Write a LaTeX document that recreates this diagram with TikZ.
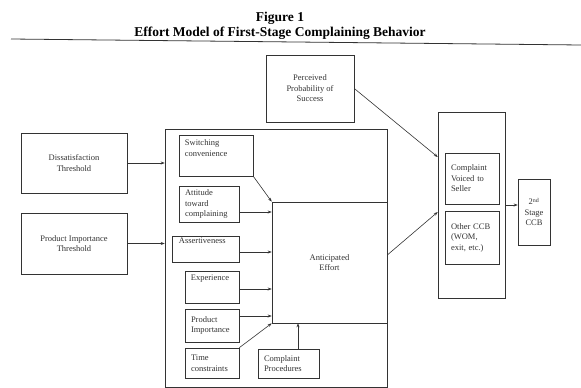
\documentclass[tikz,border=0pt]{standalone}
\usepackage{fontspec}
\setmainfont{Liberation Serif}
\usetikzlibrary{arrows.meta, positioning, calc}
\definecolor{ink}{HTML}{333333}

\begin{document}
\begin{tikzpicture}[x=1pt, y=-1pt,
    box/.style={draw=ink, line width=0.6pt, text=ink, inner sep=0pt,
      font=\fontsize{8.5}{10.5}\selectfont, align=center},
    lbox/.style={box, align=left, inner xsep=6pt},
    tl/.style={text=ink, font=\fontsize{8.5}{10.5}\selectfont, align=left,
      anchor=north west, inner sep=0pt},
    arr/.style={draw=ink, line width=0.6pt, -{Stealth[length=4pt, width=3pt]}}]
    \useasboundingbox (0,0) rectangle (581,388);

    % Title
    \node[font=\bfseries\fontsize{13.5}{15}\selectfont] (fig) at (280,18) {Figure 1};
    \node[font=\bfseries\fontsize{13.5}{15}\selectfont] (ttl) at (280,33) {Effort Model of First-Stage Complaining Behavior};
    \draw[ink, line width=0.8pt] (11,39) -- (581,45);

    % Perceived probability
    \node[box, minimum width=88pt, minimum height=67pt] (perc) at (310,88.5) {Perceived\\Probability of\\Success};

    % Thresholds
    \node[box, minimum width=106pt, minimum height=60pt] (dis) at (74,163) {Dissatisfaction\\Threshold};
    \node[box, minimum width=106pt, minimum height=61pt] (pit) at (74,243.5) {Product Importance\\Threshold};

    % Effort factors
    \node[box, minimum width=222pt, minimum height=258pt] (outer) at (276,258) {};
    \node[box, minimum width=74pt, minimum height=41pt] (sw) at (216,155.5) {};
    \node[tl] (swt) at ([shift={(6,5)}]sw.north west) {Switching\\convenience};
    \node[lbox, text width=48pt, minimum height=36pt] (att) at (209,204) {Attitude\\toward\\complaining};
    \node[box, minimum width=67pt, minimum height=26pt] (ass) at (205.5,249) {};
    \node[tl] (asst) at ([shift={(7,2)}]ass.north west) {Assertiveness};
    \node[box, minimum width=54pt, minimum height=32pt] (exp) at (212,287) {};
    \node[tl] (expt) at ([shift={(6,4)}]exp.north west) {Experience};
    \node[lbox, text width=42pt, minimum height=33pt] (pim) at (212,325.5) {Product\\Importance};
    \node[lbox, text width=42pt, minimum height=30pt] (tim) at (212,363) {Time\\constraints};
    \node[lbox, text width=49pt, minimum height=29pt] (cpr) at (288.5,363.5) {Complaint\\Procedures};
    \node[box, minimum width=115pt, minimum height=121pt] (eff) at (329.5,262.5) {Anticipated\\Effort};

    % First-stage outcomes
    \node[box, minimum width=67pt, minimum height=186pt] (cont) at (471.5,205) {};
    \node[lbox, text width=42pt, minimum height=51pt] (cvs) at (472,178.5) {Complaint\\Voiced to\\Seller};
    \node[lbox, text width=42pt, minimum height=53pt] (oth) at (472,237.5) {Other CCB\\(WOM,\\exit, etc.)};
    \node[box, minimum width=32pt, minimum height=66pt] (stg) at (534,212) {2\textsuperscript{nd}\\Stage\\CCB};

    % Connectors
    \draw[arr] (dis.east) -- (dis.east -| outer.west);
    \draw[arr] (pit.east) -- (pit.east -| outer.west);
    \draw[arr] (sw.south east) -- (eff.north west);
    \draw[arr] ([yshift=-8pt]att.east) -- ([yshift=-8pt]att.east -| eff.west);
    \draw[arr] ([yshift=-3pt]ass.east) -- ([yshift=-3pt]ass.east -| eff.west);
    \draw[arr] ([yshift=-2pt]exp.east) -- ([yshift=-2pt]exp.east -| eff.west);
    \draw[arr] ([yshift=9.5pt]pim.east) -- ([yshift=9.5pt]pim.east -| eff.west);
    \draw[arr] (tim.north east) -- (eff.south west);
    \draw[arr] ([xshift=9.5pt]cpr.north) -- ([xshift=9.5pt]cpr.north |- eff.south);
    \draw[arr] (perc.east) -- ([yshift=48pt]cont.west);
    \draw[arr] ([yshift=7.5pt]eff.east) -- ([yshift=-7pt]cont.west);
    \draw[arr] (cont.east) -- (cont.east -| stg.west);
\end{tikzpicture}
\end{document}
